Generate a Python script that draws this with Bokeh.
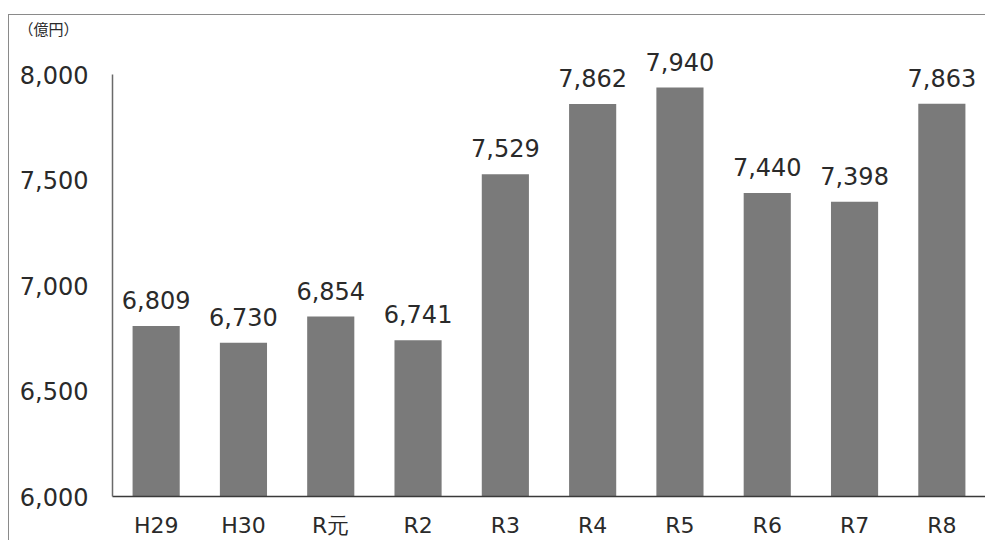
from bokeh.plotting import figure
from bokeh.models import ColumnDataSource, LabelSet, NumeralTickFormatter, FixedTicker
from bokeh.core.properties import value
from bokeh.embed import file_html
from bokeh.resources import INLINE

categories = ["H29", "H30", "R元", "R2", "R3", "R4", "R5", "R6", "R7", "R8"]
values = [6809, 6730, 6854, 6741, 7529, 7862, 7940, 7440, 7398, 7863]
y_ticks = [6000, 6500, 7000, 7500, 8000]
unit_label = "（億円）"

labels = [f"{v:,}" for v in values]
src = ColumnDataSource(dict(cat=categories, val=values, lab=labels))

W, H = 977, 526
p = figure(x_range=categories, y_range=(6000, 8173), width=W, height=H,
           output_backend="svg", toolbar_location=None, title=unit_label,
           min_border_left=103, min_border_right=1, min_border_top=16, min_border_bottom=45)
p.styles = {"border-left": "1.5px solid #8a8a8a", "border-top": "1.5px solid #8a8a8a",
            "margin-top": "14px", "margin-left": "8px"}
p.title.align = "left"
p.title.offset = -94
p.title.standoff = 0
p.title.text_font = "Noto Sans CJK JP"
p.title.text_font_style = "normal"
p.title.text_font_size = "15px"
p.title.text_color = "#2a2a2a"
p.x_range.range_padding = 0
p.outline_line_color = None
p.grid.visible = False
p.background_fill_color = "white"
p.border_fill_color = "white"

p.vbar(x="cat", top="val", bottom=6000, width=0.54, source=src,
       fill_color="#7a7a7a", line_color=None)

p.add_layout(LabelSet(x="cat", y="val", text="lab", source=src, text_align="center",
                      text_baseline="alphabetic", y_offset=17, text_font=value("DejaVu Sans"),
                      text_font_size="24px", text_color="#2a2a2a"))

ya = p.yaxis[0]
ya.ticker = FixedTicker(ticks=y_ticks)
ya.formatter = NumeralTickFormatter(format="0,0")
ya.bounds = (6000, 8000)
ya.major_tick_line_color = None
ya.minor_tick_line_color = None
ya.axis_line_color = "#6a6a6a"
ya.axis_line_width = 1.5
ya.major_label_text_font = "DejaVu Sans"
ya.major_label_text_font_size = "24px"
ya.major_label_text_color = "#2a2a2a"
ya.major_label_standoff = 18

xa = p.xaxis[0]
xa.major_tick_line_color = None
xa.minor_tick_line_color = None
xa.axis_line_color = "#3a3a3a"
xa.axis_line_width = 1.5
xa.major_label_text_font = "DejaVu Sans"
xa.major_label_text_font_size = "22px"
xa.major_label_text_color = "#2a2a2a"
xa.major_label_standoff = 10

open("out.html", "w").write(file_html(p, INLINE))
